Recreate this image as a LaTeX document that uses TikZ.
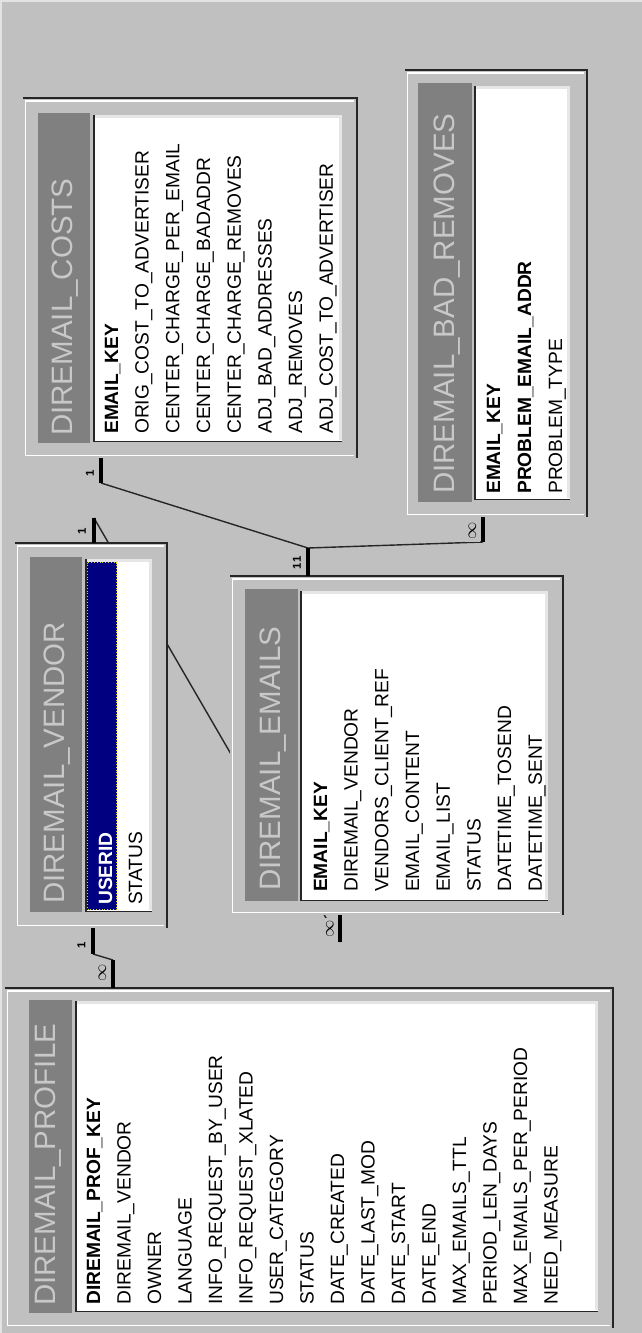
\documentclass[tikz,border=0pt]{standalone}
\usepackage{fontspec}
\setmainfont{Liberation Sans}

\definecolor{canvas}{HTML}{C0C0C0}
\definecolor{strip}{HTML}{808080}
\definecolor{titletext}{HTML}{C8C8C8}
\definecolor{navy}{HTML}{000080}
\definecolor{rim}{HTML}{E6E6E6}
\definecolor{edge}{HTML}{262626}

\tikzset{
  fieldtxt/.style={rotate=90, anchor=base west, inner sep=0pt,
    font=\fontsize{19.2}{23}\selectfont},
  keytxt/.style={fieldtxt, font=\fontsize{19.2}{23}\selectfont\bfseries},
  titletxt/.style={rotate=90, anchor=base west, inner sep=0pt, text=titletext,
    font=\fontsize{29.5}{34}\selectfont},
  link/.style={draw=edge, line width=1.4pt},
  stub/.style={draw=black, line width=4pt},
  cardlbl/.style={rotate=90, inner sep=0.6pt, fill=canvas,
    font=\fontsize{11.5}{12}\selectfont\bfseries},
  manylbl/.style={rotate=90, inner xsep=2.5pt, inner ysep=3.5pt, fill=canvas,
    font=\fontsize{18}{18}\selectfont},
}

% raised table window: dark outer edge on top/right, light inner edge
\newcommand\erdframe[4]{%
  \fill[canvas] (#1,#2) rectangle (#3,#4);
  \draw[white, line width=1.5pt] (#3-3,#2+3) -- (#1+2.5,#2+3) -- (#1+2.5,#4-2.5) -- (#3-3,#4-2.5);
  \draw[edge, line width=2.2pt] (#1,#2) -- (#3,#2) -- (#3,#4);
}
% grey caption strip
\newcommand\erdstrip[4]{\fill[strip] (#1,#2) rectangle (#3,#4);}
% sunken white field list
\newcommand\erdlist[4]{%
  \fill[white] (#1,#2) rectangle (#3,#4);
  \draw[rim, line width=3pt] (#1+2,#2+1.5) -- (#3-1.5,#2+1.5) -- (#3-1.5,#4-2);
  \draw[edge, line width=1.5pt] (#1+0.75,#2) -- (#1+0.75,#4-0.75) -- (#3,#4-0.75);
}

\begin{document}
\begin{tikzpicture}[x=1pt,y=-1pt]
  \useasboundingbox (0,0) rectangle (642,1333);
  \fill[canvas] (0,0) rectangle (642,1333);
  \draw[white!55!canvas, line width=2.5pt] (1.2,1333) -- (1.2,1.2) -- (642,1.2);

  % ---- relationship stubs (end points) ----
  \coordinate (vendTop)    at (94,543);
  \coordinate (vendTopEnd) at (94,518);
  \coordinate (emBot)      at (340,915);
  \coordinate (emBotEnd)   at (340,942);
  \coordinate (costBot)    at (101,458);
  \coordinate (costBotEnd) at (101,483);
  \coordinate (emTop)      at (308,576);
  \coordinate (emTopEnd)   at (308,548);
  \coordinate (badBot)     at (483,517);
  \coordinate (badBotEnd)  at (483,542);
  \coordinate (vendBot)    at (93,928);
  \coordinate (vendBotEnd) at (93,954);
  \coordinate (profTop)    at (113,988);
  \coordinate (profTopEnd) at (113,960);

  % ---- join lines (drawn below the tables) ----
  \draw[link] (vendTopEnd) -- (emBotEnd);
  \draw[link] (costBotEnd) -- (emTopEnd);
  \draw[link] (emTopEnd) -- (badBotEnd);
  \draw[link] (vendBotEnd) -- (profTopEnd);

  % ---- DIREMAIL_COSTS ----
  \erdframe{23}{98}{357}{458}
  \erdstrip{38}{113}{90}{443}
  \erdlist{93}{115}{342}{442}
  \node[titletxt] (costs-title) at (72,436) {DIREMAIL\_COSTS};
  \node[keytxt] (costs-f0) at (118,434) {EMAIL\_KEY};
  \foreach \t [count=\i] in {ORIG\_COST\_TO\_ADVERTISER, CENTER\_CHARGE\_PER\_EMAIL,
      CENTER\_CHARGE\_BADADDR, CENTER\_CHARGE\_REMOVES, ADJ\_BAD\_ADDRESSES,
      ADJ\_REMOVES, ADJ\_COST\_TO\_ADVERTISER}
    \node[fieldtxt] (costs-f\i) at (118+30.7*\i,434) {\t};

  % ---- DIREMAIL_BAD_REMOVES ----
  \erdframe{405}{70}{587}{517}
  \erdstrip{418}{83}{472}{502}
  \erdlist{474}{86}{570}{500}
  \node[titletxt] (bad-title) at (454,494) {DIREMAIL\_BAD\_REMOVES};
  \node[keytxt] (bad-f0) at (500,494) {EMAIL\_KEY};
  \node[keytxt] (bad-f1) at (531,494) {PROBLEM\_EMAIL\_ADDR};
  \node[fieldtxt] (bad-f2) at (562,494) {PROBLEM\_TYPE};

  % ---- DIREMAIL_VENDOR ----
  \erdframe{15}{543}{167}{928}
  \erdstrip{30}{557}{82}{912}
  \erdlist{85}{559}{152}{912}
  \fill[navy] (87,562) rectangle (117,910);
  \draw[yellow!85!black, dotted, line width=0.8pt] (87.5,562.5) rectangle (116.5,909.5);
  \node[titletxt] (vend-title) at (64,904) {DIREMAIL\_VENDOR};
  \node[keytxt, text=white] (vend-f0) at (112,905) {USERID};
  \node[fieldtxt] (vend-f1) at (142,905) {STATUS};

  % ---- DIREMAIL_EMAILS ----
  \erdframe{230}{576}{563}{915}
  \erdstrip{245}{589}{298}{901}
  \erdlist{300}{591}{548}{901}
  \node[titletxt] (em-title) at (280,891) {DIREMAIL\_EMAILS};
  \node[keytxt] (em-f0) at (327,892) {EMAIL\_KEY};
  \foreach \t [count=\i] in {DIREMAIL\_VENDOR, VENDORS\_CLIENT\_REF, EMAIL\_CONTENT,
      EMAIL\_LIST, STATUS, DATETIME\_TOSEND, DATETIME\_SENT}
    \node[fieldtxt] (em-f\i) at (327+30.7*\i,892) {\t};

  % ---- DIREMAIL_PROFILE ----
  \erdframe{5}{988}{613}{1328}
  \erdstrip{29}{1000}{72}{1313}
  \erdlist{75}{1001}{598}{1312}
  \node[titletxt] (prof-title) at (55,1306) {DIREMAIL\_PROFILE};
  \node[keytxt] (prof-f0) at (100,1305) {DIREMAIL\_PROF\_KEY};
  \foreach \t [count=\i] in {DIREMAIL\_VENDOR, OWNER, LANGUAGE, INFO\_REQUEST\_BY\_USER,
      INFO\_REQUEST\_XLATED, USER\_CATEGORY, STATUS, DATE\_CREATED, DATE\_LAST\_MOD,
      DATE\_START, DATE\_END, MAX\_EMAILS\_TTL, PERIOD\_LEN\_DAYS,
      MAX\_EMAILS\_PER\_PERIOD, NEED\_MEASURE}
    \node[fieldtxt] (prof-f\i) at (100+30.5*\i,1305) {\t};

  % ---- cardinality labels (opaque, they mask the join lines) ----
  \node[cardlbl] (l-vendTop) at (82,531) {1};
  \node[cardlbl] (l-costBot) at (90,473) {1};
  \node[cardlbl] (l-emTopA) at (297,566) {1};
  \node[cardlbl] (l-emTopB) at (297,559) {1};
  \node[manylbl, inner ysep=5pt] (l-emBot) at (330,929) {$\infty$};
  \node[manylbl] (l-badBot) at (472.5,531) {$\infty$};
  \node[cardlbl] (l-vendBot) at (81.5,945) {1};
  \node[manylbl] (l-profTop) at (102.5,973) {$\infty$};

  % ---- cardinality stubs ----
  \draw[stub] (vendTop) -- (vendTopEnd);
  \draw[stub] (emBot) -- (emBotEnd);
  \draw[stub] (costBot) -- (costBotEnd);
  \draw[stub] (emTop) -- (emTopEnd);
  \draw[stub] (badBot) -- (badBotEnd);
  \draw[stub] (vendBot) -- (vendBotEnd);
  \draw[stub] (profTop) -- (profTopEnd);
\end{tikzpicture}
\end{document}
